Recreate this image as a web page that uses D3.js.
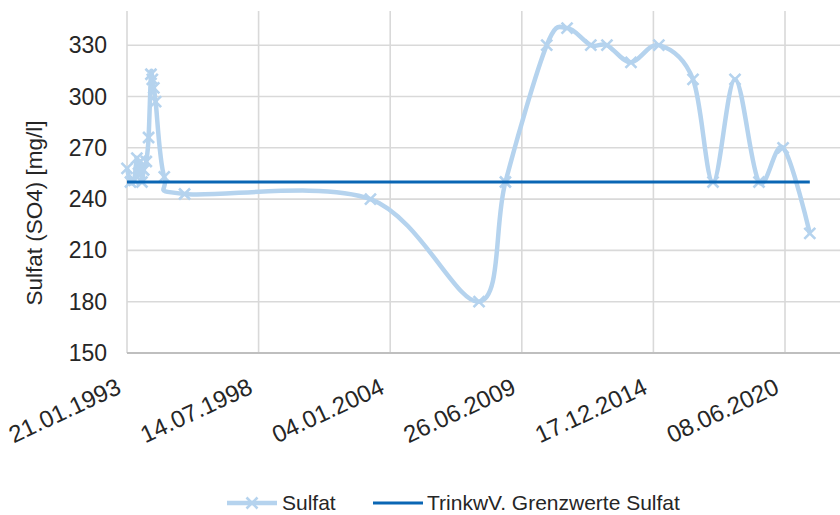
<!DOCTYPE html>
<html><head><meta charset="utf-8">
<script src="https://cdn.jsdelivr.net/npm/d3@7"></script>
<style>
html,body{margin:0;padding:0;background:#fff;}
text{font-family:"Liberation Sans",Arial,sans-serif;fill:#262626;}
</style></head>
<body>
<svg id="c" width="840" height="515"></svg>
<script>
// ---- data ----
const sampleDates = ["1993-01-21","1993-03-15","1993-05-10","1993-06-20","1993-07-15","1993-08-10","1993-09-05","1993-10-01","1993-11-10","1993-12-15","1994-01-20","1994-02-10","1994-03-05","1994-04-01","1994-08-10","1995-06-15","2003-03-10","2007-09-15","2008-10-20","2010-07-10","2011-05-15","2012-05-10","2013-01-10","2014-01-10","2015-03-10","2016-08-10","2017-06-10","2018-05-10","2019-05-10","2020-05-10","2021-06-20"];
const sulfatValues = [258,250,251,264,255,262,250,257,262,276,313,310,305,297,253,243,240,180,250,330,340,330,330,320,330,310,250,310,250,270,220];
const limitDates = ["1993-01-21","2021-06-20"];
const limitValues = [250,250];
const xTickLabels = ["21.01.1993","14.07.1998","04.01.2004","26.06.2009","17.12.2014","08.06.2020"];
const yTicks = [150,180,210,240,270,300,330];
const seriesNames = ["Sulfat","TrinkwV. Grenzwerte Sulfat"];
const yTitle = "Sulfat (SO4) [mg/l]";

// ---- layout ----
const svg = d3.select("#c");
const pL = 127, pT = 11, pB = 353, pR = 840;
const pIso = d3.timeParse("%Y-%m-%d");
const pDe = d3.timeParse("%d.%m.%Y");
const tickDates = xTickLabels.map(pDe);
const x = d3.scaleTime().domain([tickDates[0], tickDates[tickDates.length-1]]).range([pL, 785]);
const y = d3.scaleLinear().domain([150,350]).range([pB, pT]);

const colLight = "#b5d3ee", colDark = "#0a66b4", grid = "#d9d9d9";

svg.append("g").selectAll("line").data(yTicks.slice(1)).join("line")
  .attr("x1", pL).attr("x2", pR).attr("y1", d=>y(d)).attr("y2", d=>y(d))
  .attr("stroke", grid).attr("stroke-width", 1.6);
svg.append("g").selectAll("line").data(tickDates).join("line")
  .attr("x1", d=>x(d)).attr("x2", d=>x(d)).attr("y1", pT).attr("y2", pB)
  .attr("stroke", grid).attr("stroke-width", 1.6);
svg.append("line").attr("x1", pL).attr("x2", pR).attr("y1", pB).attr("y2", pB)
  .attr("stroke", "#bfbfbf").attr("stroke-width", 1.8);

svg.append("g").selectAll("text").data(yTicks).join("text")
  .attr("x", 107).attr("y", d=>y(d)).attr("dy","0.35em")
  .attr("text-anchor","end").attr("font-size", 23).text(d=>d);

svg.append("g").selectAll("text").data(tickDates).join("text")
  .attr("text-anchor","end").attr("font-size", 24)
  .attr("transform", d=>`translate(${x(d)-8},${pB+32}) rotate(-25)`)
  .attr("dy","0.35em")
  .text((d,i)=>xTickLabels[i]);

svg.append("text").attr("transform", `translate(42,${(pT+pB)/2+31}) rotate(-90)`)
  .attr("text-anchor","middle").attr("font-size", 22.5).text(yTitle);

const sData = sampleDates.map((d,i)=>({d:pIso(d), v:sulfatValues[i]}));
const line = d3.line().x(p=>x(p.d)).y(p=>y(p.v)).curve(d3.curveCardinal.tension(0));
svg.append("path").datum(sData).attr("d", line).attr("fill","none")
  .attr("stroke", colLight).attr("stroke-width", 4.5).attr("stroke-linejoin","round");
const m = 5.5;
const mk = svg.append("g");
sData.forEach(p=>{
  const cx = x(p.d), cy = y(p.v);
  mk.append("path").attr("d", `M${cx-m},${cy-m}L${cx+m},${cy+m}M${cx-m},${cy+m}L${cx+m},${cy-m}`)
    .attr("stroke", colLight).attr("stroke-width", 2.6).attr("fill","none");
});

const lData = limitDates.map((d,i)=>({d:pIso(d), v:limitValues[i]}));
svg.append("path").datum(lData).attr("d", d3.line().x(p=>x(p.d)).y(p=>y(p.v)))
  .attr("stroke", colDark).attr("stroke-width", 3.2).attr("fill","none");

const ly = 503;
const lg = svg.append("g");
lg.append("line").attr("x1",227).attr("x2",277).attr("y1",ly).attr("y2",ly).attr("stroke",colLight).attr("stroke-width",4.5);
lg.append("path").attr("d",`M${252-m},${ly-m}L${252+m},${ly+m}M${252-m},${ly+m}L${252+m},${ly-m}`).attr("stroke",colLight).attr("stroke-width",2.6);
lg.append("text").attr("x",282).attr("y",ly).attr("dy","0.35em").attr("font-size",21).text(seriesNames[0]);
lg.append("line").attr("x1",373).attr("x2",423).attr("y1",ly).attr("y2",ly).attr("stroke",colDark).attr("stroke-width",3.2);
lg.append("text").attr("x",427).attr("y",ly).attr("dy","0.35em").attr("font-size",21).text(seriesNames[1]);
</script>
</body></html>
